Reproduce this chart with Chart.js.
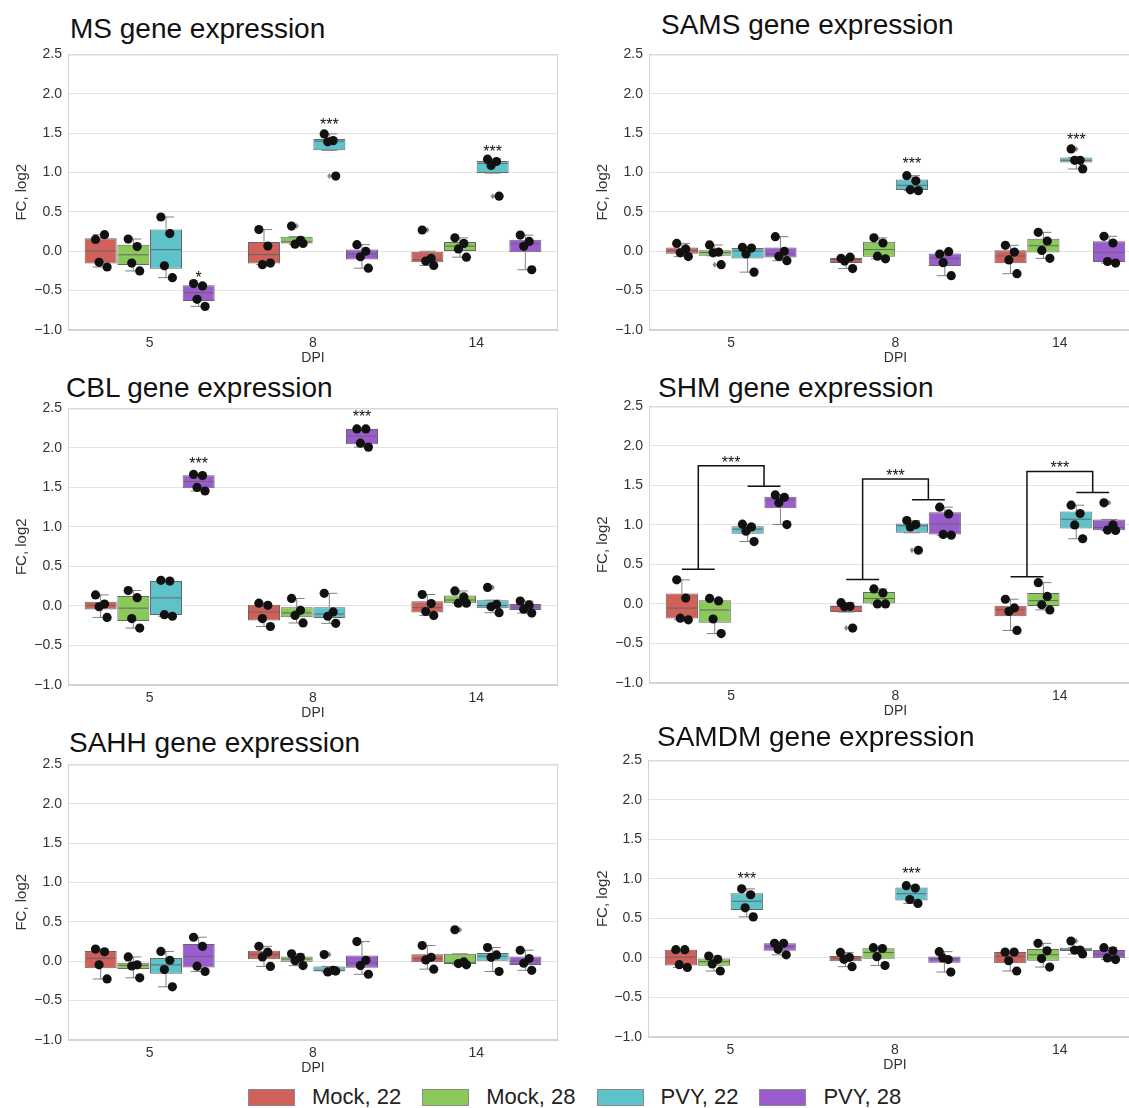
<!DOCTYPE html>
<html>
<head>
<meta charset="utf-8">
<script src="https://cdn.jsdelivr.net/npm/chart.js@4.4.1/dist/chart.umd.min.js"></script>
<style>
  html, body { margin: 0; padding: 0; background: #fff; }
  #page { position: relative; width: 1129px; height: 1108px; overflow: hidden; font-family: 'Liberation Sans', Arial, sans-serif; }
  .title { position: absolute; font-size: 28px; line-height: 28px; color: #111; white-space: nowrap; }
  canvas { position: absolute; }
  #legend { position: absolute; left: 248px; top: 1086px; display: flex; align-items: center; font-size: 22px; color: #222; white-space: nowrap; }
  .patch { width: 45px; height: 15px; border: 1px solid #8a8a8a; margin-right: 17px; }
  .label { margin-right: 21px; line-height: 22px; }
</style>
</head>
<body>
<div id="page"><div id="legend"></div></div>
<script>
const DAYS = ['5', '8', '14']
const GROUPS = ['Mock, 22', 'Mock, 28', 'PVY, 22', 'PVY, 28']
const COLORS = ['#d0605a', '#8bc95a', '#5ec2cb', '#9b5ccf']
const Y_TICKS = [-1.0, -0.5, 0.0, 0.5, 1.0, 1.5, 2.0, 2.5]

// log2 fold change per plant: [day][group] -> replicate values
const MS = [
  [[0.15, 0.21, -0.14, -0.2], [0.155, 0.06, -0.15, -0.25], [0.435, 0.225, -0.185, -0.335], [-0.41, -0.44, -0.61, -0.7]],
  [[0.275, 0.067, -0.17, -0.15], [0.32, 0.14, 0.09, 0.1], [1.49, 1.405, 1.39, 0.955], [0.084, 0.0, -0.07, -0.215]],
  [[0.27, -0.09, -0.125, -0.18], [0.17, 0.1, 0.03, -0.075], [1.17, 1.14, 1.09, 0.7], [0.205, 0.125, 0.063, -0.235]],
]
const SAMS = [
  [[0.1, 0.03, -0.02, -0.067], [0.08, -0.01, -0.02, -0.17], [0.05, 0.04, -0.035, -0.265], [0.185, 0.0, -0.065, -0.12]],
  [[-0.09, -0.075, -0.125, -0.22], [0.17, 0.105, -0.063, -0.096], [0.96, 0.895, 0.78, 0.77], [-0.035, -0.005, -0.145, -0.31]],
  [[0.075, -0.01, -0.11, -0.285], [0.24, 0.13, 0.01, -0.09], [1.3, 1.155, 1.155, 1.045], [0.19, 0.105, -0.13, -0.15]],
]
const CBL = [
  [[0.14, 0.025, -0.01, -0.145], [0.195, 0.105, -0.16, -0.28], [0.325, 0.315, -0.11, -0.13], [1.665, 1.65, 1.5, 1.455]],
  [[0.035, 0.008, -0.16, -0.26], [0.095, -0.055, -0.12, -0.215], [0.16, -0.075, -0.13, -0.22], [2.24, 2.24, 2.06, 2.01]],
  [[0.145, 0.03, -0.07, -0.12], [0.19, 0.115, 0.035, 0.035], [0.235, 0.02, -0.01, -0.085], [0.063, 0.013, -0.04, -0.09]],
]
const SHM = [
  [[0.305, 0.075, -0.18, -0.2], [0.07, 0.038, -0.19, -0.375], [1.01, 0.975, 0.92, 0.79], [1.38, 1.35, 1.28, 1.005]],
  [[0.017, -0.03, -0.035, -0.305], [0.19, 0.14, 0.0, 0.0], [1.055, 1.005, 0.975, 0.68], [1.225, 1.14, 0.88, 0.87]],
  [[0.06, -0.05, -0.095, -0.335], [0.27, 0.095, -0.01, -0.075], [1.25, 1.145, 1.0, 0.825], [1.28, 1.0, 0.935, 0.93]],
]
const SAHH = [
  [[0.155, 0.12, -0.045, -0.225], [0.055, -0.045, -0.06, -0.21], [0.125, 0.013, -0.105, -0.325], [0.305, 0.19, -0.063, -0.13]],
  [[0.19, 0.115, 0.055, -0.065], [0.095, 0.05, 0.008, -0.055], [0.085, -0.115, -0.135, -0.125], [0.25, 0.013, -0.055, -0.165]],
  [[0.2, 0.05, 0.017, -0.1], [0.4, -0.008, -0.03, -0.045], [0.175, 0.08, 0.05, -0.13], [0.14, 0.035, -0.025, -0.115]],
]
const SAMDM = [
  [[0.105, 0.105, -0.085, -0.12], [0.025, -0.017, -0.075, -0.165], [0.875, 0.8, 0.635, 0.52], [0.185, 0.185, 0.11, 0.04]],
  [[0.07, 0.008, -0.017, -0.11], [0.13, 0.12, 0.017, -0.095], [0.915, 0.885, 0.74, 0.69], [0.08, -0.02, 0.0, -0.178]],
  [[0.075, 0.075, -0.035, -0.165], [0.185, 0.09, -0.008, -0.115], [0.215, 0.1, 0.1, 0.05], [0.13, 0.09, 0.0, -0.02]],
]

// significance marks: [day, group, text, value]
const MS_STARS = [[0, 3, '*', -0.285], [1, 2, '***', 1.66], [2, 2, '***', 1.305]]
const SAMS_STARS = [[1, 2, '***', 1.16], [2, 2, '***', 1.46]]
const CBL_STARS = [[0, 3, '***', 1.85], [1, 3, '***', 2.44]]
const SHM_STARS = [[0, 1.5, '***', 1.84], [1, 1.5, '***', 1.67], [2, 1.5, '***', 1.766]]
const SAHH_STARS = []
const SAMDM_STARS = [[0, 2, '***', 1.046], [1, 2, '***', 1.117]]
// mock vs PVY brackets: [day, mock level, PVY level, top]
const SHM_BRACKETS = [[0, 0.44, 1.49, 1.75], [1, 0.31, 1.32, 1.58], [2, 0.345, 1.41, 1.675]]

const FONT = "'Liberation Sans', Arial, sans-serif"
const EDGE = '#666666'
const WHISKER = '#808080'
const SPINE = '#d4d4d4'
const JITTER = [-0.16, 0.12, -0.05, 0.2]

const PANELS = [
  { title: 'MS gene expression', values: MS, stars: MS_STARS, left: 0, axisW: 68, width: 560, titleX: 70, titleY: 15, plotTop: 52, plotBottom: 330, yPad: 12.5 },
  { title: 'SAMS gene expression', values: SAMS, stars: SAMS_STARS, left: 580, axisW: 69, width: 564, titleX: 661, titleY: 11, plotTop: 52, plotBottom: 330, yPad: 14 },
  { title: 'CBL gene expression', values: CBL, stars: CBL_STARS, left: 0, axisW: 68, width: 560, titleX: 66, titleY: 374, plotTop: 406, plotBottom: 685, yPad: 12.5 },
  { title: 'SHM gene expression', values: SHM, stars: SHM_STARS, brackets: SHM_BRACKETS, left: 580, axisW: 69, width: 564, titleX: 658, titleY: 374, plotTop: 404, plotBottom: 683, yPad: 14 },
  { title: 'SAHH gene expression', values: SAHH, stars: SAHH_STARS, left: 0, axisW: 68, width: 560, titleX: 69, titleY: 729, plotTop: 762, plotBottom: 1040, yPad: 12.5 },
  { title: 'SAMDM gene expression', values: SAMDM, stars: SAMDM_STARS, left: 580, axisW: 68, width: 564, titleX: 657, titleY: 723, plotTop: 758, plotBottom: 1037, yPad: 14 },
]

function quantile(sorted, p) {
  const pos = (sorted.length - 1) * p
  const lo = Math.floor(pos)
  const hi = Math.ceil(pos)
  return sorted[lo] + (sorted[hi] - sorted[lo]) * (pos - lo)
}

// same rules as seaborn / matplotlib boxplot (1.5 IQR whiskers)
function boxStats(values) {
  const s = values.slice().sort((a, b) => a - b)
  const q1 = quantile(s, 0.25)
  const med = quantile(s, 0.5)
  const q3 = quantile(s, 0.75)
  const iqr = q3 - q1
  const lowFence = q1 - 1.5 * iqr
  const highFence = q3 + 1.5 * iqr
  const inside = s.filter((v) => v >= lowFence && v <= highFence)
  return {
    q1,
    med,
    q3,
    lo: Math.min(q1, inside[0]),
    hi: Math.max(q3, inside[inside.length - 1]),
    fliers: s.filter((v) => v < lowFence || v > highFence),
  }
}

function segment(ctx, x1, y1, x2, y2) {
  ctx.beginPath()
  ctx.moveTo(x1, y1)
  ctx.lineTo(x2, y2)
  ctx.stroke()
}

const boxPlot = {
  id: 'boxPlot',
  beforeDatasetsDraw(chart) {
    const { ctx, chartArea: a } = chart
    ctx.save()
    ctx.strokeStyle = SPINE
    ctx.lineWidth = 1
    ctx.strokeRect(a.left + 0.5, a.top + 0.5, a.right - a.left - 1, a.bottom - a.top - 1)
    ctx.restore()
  },
  afterDatasetsDraw(chart) {
    const { ctx } = chart
    const y = chart.scales.y
    ctx.save()
    ctx.lineWidth = 1
    chart.data.datasets.forEach((ds, di) => {
      chart.getDatasetMeta(di).data.forEach((bar, j) => {
        const s = ds.stats[j]
        const half = bar.width / 2
        ctx.strokeStyle = WHISKER
        segment(ctx, bar.x, y.getPixelForValue(s.q3), bar.x, y.getPixelForValue(s.hi))
        segment(ctx, bar.x - half / 2, y.getPixelForValue(s.hi), bar.x + half / 2, y.getPixelForValue(s.hi))
        segment(ctx, bar.x, y.getPixelForValue(s.q1), bar.x, y.getPixelForValue(s.lo))
        segment(ctx, bar.x - half / 2, y.getPixelForValue(s.lo), bar.x + half / 2, y.getPixelForValue(s.lo))
        ctx.strokeStyle = EDGE
        segment(ctx, bar.x - half + 1, y.getPixelForValue(s.med), bar.x + half - 1, y.getPixelForValue(s.med))
        ctx.fillStyle = '#8c8c8c'
        s.fliers.forEach((v) => {
          const py = y.getPixelForValue(v)
          ctx.beginPath()
          ctx.moveTo(bar.x, py - 3)
          ctx.lineTo(bar.x + 2.2, py)
          ctx.lineTo(bar.x, py + 3)
          ctx.lineTo(bar.x - 2.2, py)
          ctx.closePath()
          ctx.fill()
        })
      })
    })
    // strip points on top of the boxes
    ctx.fillStyle = '#111111'
    chart.data.datasets.forEach((ds, di) => {
      chart.getDatasetMeta(di).data.forEach((bar, j) => {
        ds.points[j].forEach((v, k) => {
          ctx.beginPath()
          ctx.arc(bar.x + JITTER[k % JITTER.length] * bar.width, y.getPixelForValue(v), 4.6, 0, Math.PI * 2)
          ctx.fill()
        })
      })
    })
    ctx.restore()
  },
}

function annotations(panel) {
  return {
    id: 'annotations',
    afterDraw(chart) {
      const { ctx } = chart
      const y = chart.scales.y
      const groupX = (d, g) => {
        const a = chart.getDatasetMeta(Math.floor(g)).data[d].x
        const b = chart.getDatasetMeta(Math.ceil(g)).data[d].x
        return a + (b - a) * (g - Math.floor(g))
      }
      ctx.save()
      ctx.strokeStyle = '#111'
      ctx.lineWidth = 1.5
      ;(panel.brackets || []).forEach(([d, low, high, top]) => {
        const x0 = groupX(d, 0)
        const x1 = groupX(d, 1)
        const x2 = groupX(d, 2)
        const x3 = groupX(d, 3)
        const yl = y.getPixelForValue(low)
        const yh = y.getPixelForValue(high)
        const yt = y.getPixelForValue(top)
        segment(ctx, x0, yl, x1, yl)
        segment(ctx, x2, yh, x3, yh)
        ctx.beginPath()
        ctx.moveTo((x0 + x1) / 2, yl)
        ctx.lineTo((x0 + x1) / 2, yt)
        ctx.lineTo((x2 + x3) / 2, yt)
        ctx.lineTo((x2 + x3) / 2, yh)
        ctx.stroke()
      })
      ctx.fillStyle = '#111'
      ctx.font = `16px ${FONT}`
      ctx.textAlign = 'center'
      ctx.textBaseline = 'alphabetic'
      panel.stars.forEach(([d, g, text, v]) => {
        ctx.fillText(text, groupX(d, g), y.getPixelForValue(v) + 9)
      })
      ctx.restore()
    },
  }
}

const page = document.getElementById('page')
const tickFont = { family: FONT, size: 14 }
const titleFont = { family: FONT, size: 15 }

PANELS.forEach((panel) => {
  const title = document.createElement('div')
  title.className = 'title'
  title.style.left = panel.titleX + 'px'
  title.style.top = panel.titleY + 'px'
  title.textContent = panel.title
  page.appendChild(title)

  const canvas = document.createElement('canvas')
  const height = panel.plotBottom - panel.plotTop + 52
  canvas.width = panel.width
  canvas.height = height
  canvas.style.width = panel.width + 'px'
  canvas.style.height = height + 'px'
  canvas.style.left = panel.left + 'px'
  canvas.style.top = panel.plotTop - 12 + 'px'
  page.appendChild(canvas)

  new Chart(canvas, {
    type: 'bar',
    data: {
      labels: DAYS,
      datasets: GROUPS.map((group, gi) => {
        const stats = panel.values.map((day) => boxStats(day[gi]))
        return {
          label: group,
          data: stats.map((s) => [s.q1, s.q3]),
          stats: stats,
          points: panel.values.map((day) => day[gi]),
          backgroundColor: COLORS[gi],
          borderColor: EDGE,
          borderWidth: 1,
          borderSkipped: false,
          categoryPercentage: 0.8,
          barPercentage: 0.98,
        }
      }),
    },
    options: {
      responsive: false,
      maintainAspectRatio: false,
      animation: false,
      events: [],
      layout: { padding: { top: 12, right: 2, left: 0, bottom: 0 } },
      plugins: { legend: { display: false }, tooltip: { enabled: false } },
      scales: {
        x: {
          grid: { display: false, drawTicks: false },
          border: { color: SPINE },
          ticks: { font: tickFont, color: '#333', padding: 5 },
          title: { display: true, text: 'DPI', font: tickFont, color: '#333', padding: { top: 0, bottom: 3.6 } },
          afterFit: (axis) => {
            axis.height = 40
          },
        },
        y: {
          min: -1,
          max: 2.5,
          afterBuildTicks: (axis) => {
            axis.ticks = Y_TICKS.map((value) => ({ value }))
          },
          grid: { color: '#e3e3e3', drawTicks: false },
          border: { color: SPINE },
          ticks: {
            font: tickFont,
            color: '#333',
            padding: 6,
            callback: (v) => (v < 0 ? '\u2212' : '') + Math.abs(v).toFixed(1),
          },
          title: { display: true, text: 'FC, log2', font: titleFont, color: '#333', padding: { top: panel.yPad, bottom: 0 } },
          afterFit: (axis) => {
            axis.width = panel.axisW
          },
        },
      },
    },
    plugins: [boxPlot, annotations(panel)],
  })
})

const legend = document.getElementById('legend')
GROUPS.forEach((group, gi) => {
  const patch = document.createElement('div')
  patch.className = 'patch'
  patch.style.background = COLORS[gi]
  const label = document.createElement('span')
  label.className = 'label'
  label.textContent = group
  legend.appendChild(patch)
  legend.appendChild(label)
})
</script>
</body>
</html>
